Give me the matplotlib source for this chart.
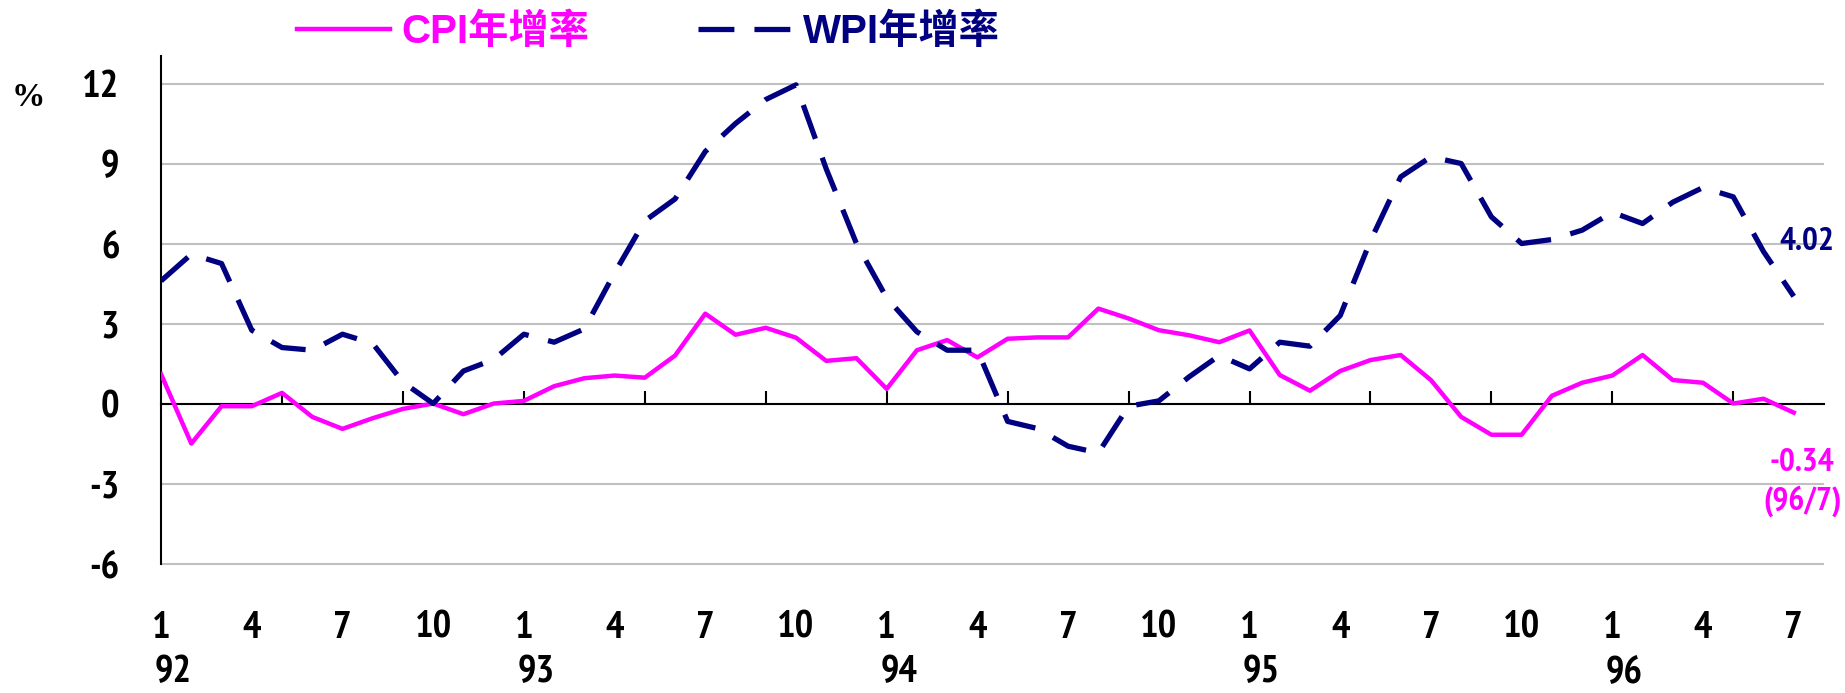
import matplotlib
matplotlib.use('Agg')
import matplotlib.pyplot as plt

# 92/1 ~ 96/7, 月資料 (年增率 %)
months = list(range(55))
cpi = [1.1, -1.5, -0.1, -0.1, 0.4, -0.5, -0.95, -0.55, -0.2, 0.0, -0.4, 0.0,
       0.1, 0.65, 0.95, 1.05, 0.97, 1.8, 3.37, 2.58, 2.84, 2.47, 1.6, 1.7,
       0.55, 2.0, 2.38, 1.73, 2.43, 2.48, 2.48, 3.56, 3.19, 2.75, 2.56, 2.3,
       2.74, 1.07, 0.48, 1.22, 1.63, 1.82, 0.88, -0.5, -1.17, -1.17, 0.29, 0.78,
       1.05, 1.82, 0.88, 0.78, 0.0, 0.18, -0.34]
wpi = [4.6, 5.6, 5.25, 2.75, 2.1, 2.0, 2.6, 2.25, 0.8, 0.0, 1.22, 1.65,
       2.6, 2.3, 2.8, 4.9, 6.85, 7.67, 9.45, 10.5, 11.4, 11.95, 8.8, 6.0,
       3.96, 2.69, 2.0, 2.0, -0.67, -0.94, -1.6, -1.85, -0.1, 0.1, 1.0, 1.8,
       1.3, 2.3, 2.15, 3.3, 6.1, 8.5, 9.25, 9.0, 7.0, 6.0, 6.15, 6.5,
       7.17, 6.75, 7.55, 8.1, 7.75, 5.7, 4.02]

month_pos = list(range(0, 55, 3))
month_labels = ['1', '4', '7', '10'] * 4 + ['1', '4', '7']
year_pos = [0, 12, 24, 36, 48]
year_labels = ['92', '93', '94', '95', '96']
tick_pos = list(range(4, 53, 4))
y_ticks = [-6, -3, 0, 3, 6, 9, 12]

PINK = '#FF00FF'
NAVY = '#000080'

plt.rcParams['font.family'] = ['PT Sans Narrow', 'Noto Sans CJK TC', 'DejaVu Sans']
plt.rcParams['font.weight'] = 'bold'
plt.rcParams['axes.unicode_minus'] = False

fig = plt.figure(figsize=(18.45, 6.93), dpi=100)
ax = fig.add_axes([0.0873, 0.1837, 0.9013, 0.7362])

ax.plot(months, cpi, color=PINK, lw=3.2, label='CPI年增率', zorder=3)
ax.plot(months, wpi, color=NAVY, lw=3.8, ls=(0, (6.8, 3.8)), label='WPI年增率', zorder=3)

ax.set_xlim(0, 55)
ax.set_ylim(-6.08, 13.05)

# 格線 / 座標軸
ax.set_yticks(y_ticks)
ax.grid(axis='y', color='#C0C0C0', lw=1.5)
ax.set_axisbelow(True)
ax.tick_params(axis='y', length=0, pad=30, labelsize=28)

for s in ['top', 'right']:
    ax.spines[s].set_visible(False)
ax.spines['left'].set_bounds(-6, 13.05)
ax.spines['left'].set_linewidth(1.5)
ax.spines['bottom'].set_position(('data', 0))
ax.spines['bottom'].set_linewidth(1.5)

ax.set_xticks(tick_pos)
ax.tick_params(axis='x', direction='in', length=9.5, width=1.5, labelbottom=False)

# 月份 / 年份標籤 (放在圖框下方)
xt = ax.get_xaxis_transform()
for p, lab in zip(month_pos, month_labels):
    ax.text(p, -0.1417, lab, transform=xt, ha='center', va='baseline', size=28)
for p, lab in zip(year_pos, year_labels):
    ax.text(p + 0.4, -0.228, lab, transform=xt, ha='center', va='baseline', size=28)

fig.text(28 / 1845, 1 - 97 / 693, '%', ha='center', va='center',
         family='Liberation Serif', weight='bold', size=24)

leg = ax.legend(loc='center left', bbox_to_anchor=(297 / 1845, 1 - 32 / 693),
                bbox_transform=fig.transFigure, ncol=2, frameon=False,
                prop=dict(family=['Liberation Sans', 'Noto Sans CJK TC'], weight='bold', size=29),
                handlelength=2.3, handletextpad=0.3, columnspacing=2.7,
                borderpad=0, borderaxespad=0)
for t, c in zip(leg.get_texts(), [PINK, NAVY]):
    t.set_color(c)

# 最新值標註
ax.annotate(f'{wpi[-1]:.2f}', xy=(months[-1], wpi[-1]), xytext=(-10, 39),
            textcoords='offset points', ha='left', va='center',
            color=NAVY, size=24, weight='bold')
ax.annotate(f'{cpi[-1]:.2f}\n(96/7)', xy=(months[-1], cpi[-1]), xytext=(6, -50),
            textcoords='offset points', ha='center', va='center',
            color=PINK, size=24, weight='bold', linespacing=1.3)

fig.savefig('out.png', dpi=100)
